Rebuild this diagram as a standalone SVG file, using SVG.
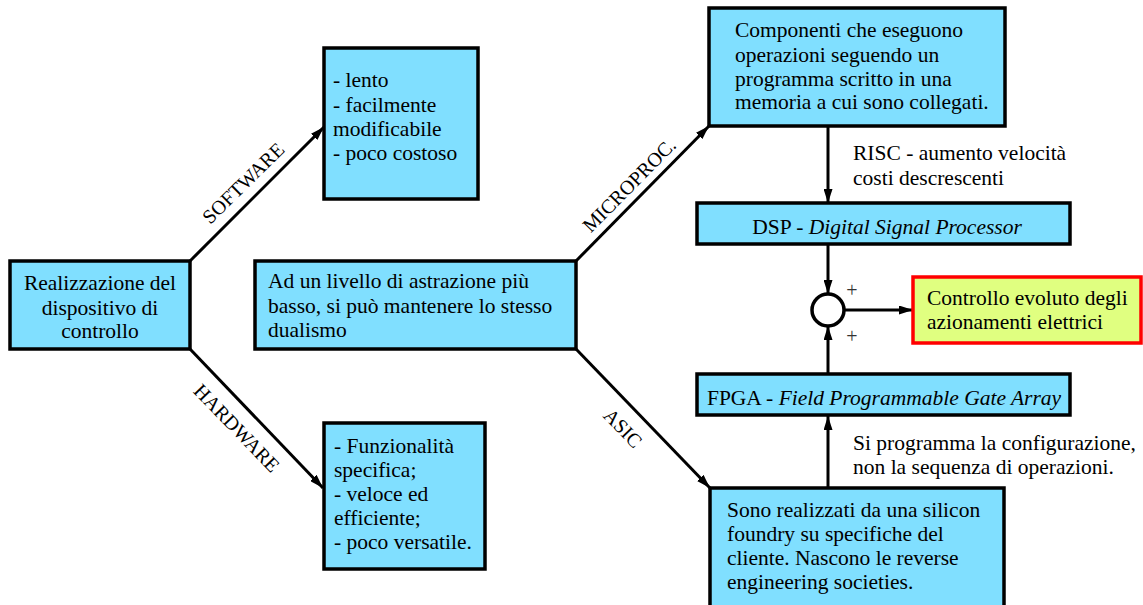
<svg xmlns="http://www.w3.org/2000/svg" width="1143" height="605" viewBox="0 0 1143 605">
<defs>
<style>
.box{fill:#80dfff;stroke:#000;stroke-width:3.5}
.goal{fill:#e0ff80;stroke:#ff0000;stroke-width:3.5}
.t{font-family:"Liberation Serif","Times New Roman",serif;font-size:21.5px;fill:#000}
.i{font-style:italic}
.lbl{font-family:"Liberation Serif","Times New Roman",serif;font-size:20px;fill:#000;text-anchor:middle}
.pl{font-family:"Liberation Serif","Times New Roman",serif;font-size:20px;fill:#333;text-anchor:middle}
.c{stroke:#000;stroke-width:3;fill:none}
</style>
<marker id="ah" viewBox="0 0 14 9" refX="14" refY="4.5" markerWidth="14" markerHeight="9" markerUnits="userSpaceOnUse" orient="auto">
<path d="M0,0 L14,4.5 L0,9 z" fill="#000"/>
</marker>
</defs>
<rect width="1143" height="605" fill="#fff"/>

<g id="connectors">
<line class="c" x1="190" y1="261" x2="324" y2="127" marker-end="url(#ah)"/>
<line class="c" x1="190" y1="349" x2="323" y2="488" marker-end="url(#ah)"/>
<line class="c" x1="576" y1="261" x2="709" y2="126" marker-end="url(#ah)"/>
<line class="c" x1="576" y1="349" x2="710" y2="488" marker-end="url(#ah)"/>
<line class="c" x1="828" y1="127" x2="828" y2="203" marker-end="url(#ah)"/>
<line class="c" x1="828" y1="244" x2="828" y2="294" marker-end="url(#ah)"/>
<line class="c" x1="828" y1="374" x2="828" y2="326" marker-end="url(#ah)"/>
<line class="c" x1="828" y1="488" x2="828" y2="416" marker-end="url(#ah)"/>
<line class="c" x1="844" y1="310" x2="913" y2="310" marker-end="url(#ah)"/>
<text class="lbl" transform="translate(243,183) rotate(-44.4)" y="7">SOFTWARE</text>
<text class="lbl" transform="translate(237,428) rotate(46)" y="7">HARDWARE</text>
<text class="lbl" transform="translate(629,185) rotate(-45.2)" y="7">MICROPROC.</text>
<text class="lbl" transform="translate(623,428) rotate(46)" y="7">ASIC</text>
<text class="t" x="853" y="160">RISC - aumento velocità</text>
<text class="t" x="853" y="185">costi descrescenti</text>
<text class="t" x="853" y="450">Si programma la configurazione,</text>
<text class="t" x="853" y="474">non la sequenza di operazioni.</text>
<text class="pl" x="852" y="297">+</text>
<text class="pl" x="852" y="343">+</text>
</g>

<g id="realizzazione">
<rect class="box" x="10" y="261" width="180" height="88"/>
<text class="t" text-anchor="middle" x="100" y="290">Realizzazione del</text>
<text class="t" text-anchor="middle" x="100" y="315">dispositivo di</text>
<text class="t" text-anchor="middle" x="100" y="338">controllo</text>
</g>

<g id="software">
<rect class="box" x="324" y="48" width="154" height="151"/>
<text class="t" x="333" y="87">- lento</text>
<text class="t" x="333" y="112">- facilmente</text>
<text class="t" x="333" y="136">modificabile</text>
<text class="t" x="333" y="160">- poco costoso</text>
</g>

<g id="hardware">
<rect class="box" x="324" y="423" width="161" height="146"/>
<text class="t" x="334" y="453">- Funzionalità</text>
<text class="t" x="334" y="477">specifica;</text>
<text class="t" x="334" y="501">- veloce ed</text>
<text class="t" x="334" y="525">efficiente;</text>
<text class="t" x="334" y="549">- poco versatile.</text>
</g>

<g id="livello">
<rect class="box" x="255" y="261" width="321" height="88"/>
<text class="t" x="268" y="288">Ad un livello di astrazione più</text>
<text class="t" x="268" y="313">basso, si può mantenere lo stesso</text>
<text class="t" x="268" y="337">dualismo</text>
</g>

<g id="componenti">
<rect class="box" x="709" y="8" width="296" height="118"/>
<text class="t" x="735" y="37">Componenti che eseguono</text>
<text class="t" x="735" y="62">operazioni seguendo un</text>
<text class="t" x="735" y="86">programma scritto in una</text>
<text class="t" x="735" y="109">memoria a cui sono collegati.</text>
</g>

<g id="dsp">
<rect class="box" x="697" y="203" width="373" height="41"/>
<text class="t" text-anchor="middle" x="887" y="234">DSP - <tspan class="i">Digital Signal Processor</tspan></text>
</g>

<g id="sum">
<circle cx="828" cy="310" r="16" fill="#fff" stroke="#000" stroke-width="3.5"/>
</g>

<g id="controllo">
<rect class="goal" x="913" y="277" width="228" height="66"/>
<text class="t" x="927" y="305">Controllo evoluto degli</text>
<text class="t" x="927" y="329">azionamenti elettrici</text>
</g>

<g id="fpga">
<rect class="box" x="697" y="374" width="373" height="41"/>
<text class="t" text-anchor="middle" x="884" y="405">FPGA - <tspan class="i">Field Programmable Gate Array</tspan></text>
</g>

<g id="asic">
<rect class="box" x="710" y="488" width="294" height="125"/>
<text class="t" x="727" y="517">Sono realizzati da una silicon</text>
<text class="t" x="727" y="541">foundry su specifiche del</text>
<text class="t" x="727" y="565">cliente. Nascono le reverse</text>
<text class="t" x="727" y="589">engineering societies.</text>
</g>
</svg>
